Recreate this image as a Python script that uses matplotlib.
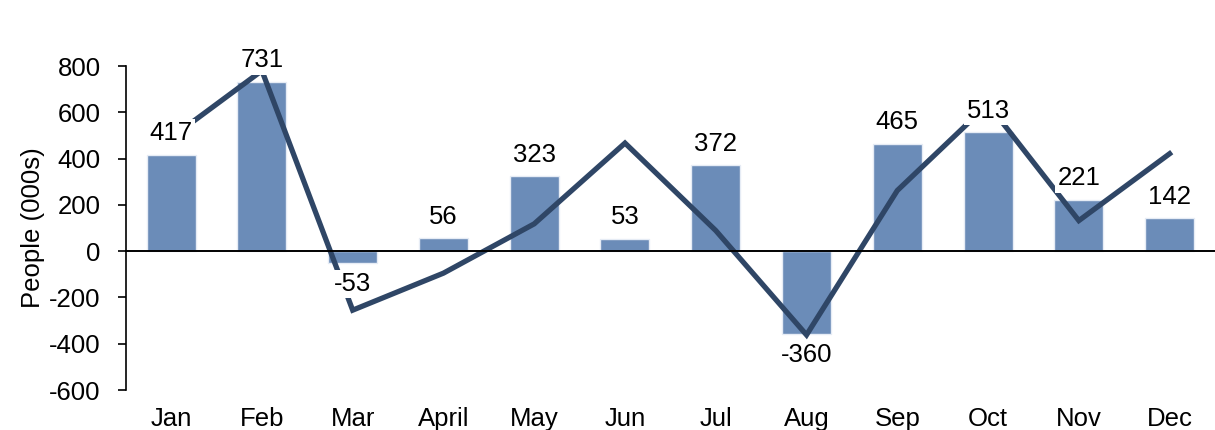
import matplotlib
matplotlib.use("Agg")
import matplotlib.pyplot as plt

months = ["Jan", "Feb", "Mar", "April", "May", "Jun", "Jul", "Aug", "Sep", "Oct", "Nov", "Dec"]
bar_values = [417, 731, -53, 56, 323, 53, 372, -360, 465, 513, 221, 142]
line_values = [490, 780, -255, -95, 118, 467, 89, -362, 262, 635, 132, 421]
yticks = [-600, -400, -200, 0, 200, 400, 600, 800]

plt.rcParams['font.family'] = ['Liberation Sans', 'DejaVu Sans']
FS = 18.5

fig = plt.figure(figsize=(12.15, 4.30), dpi=100)
ax = fig.add_axes([0.1035, 0.093, 0.8965, 0.7535])

x = list(range(len(months)))
ax.bar(x, bar_values, width=0.54, color="#6b8cb8", edgecolor="#e6ecf5", linewidth=1, zorder=2)
ax.plot(x, line_values, color="#2f4666", linewidth=3.8, solid_joinstyle="miter", zorder=3)
ax.axhline(0, color="black", linewidth=1.4, zorder=4, clip_on=False)

for xi, v in zip(x, bar_values):
    off = 15.5 if v >= 0 else -15
    ax.annotate(str(v), (xi, v), xytext=(0, off), textcoords="offset points",
                ha="center", va="center", fontsize=FS, color="black", zorder=5,
                bbox=dict(boxstyle="square,pad=0.08", facecolor="white", edgecolor="none"))

ax.set_xlim(-0.5, 11.5)
ax.set_ylim(-600, 800)
ax.set_yticks(yticks)
ax.set_yticklabels([str(t) for t in yticks])
ax.set_xticks(x)
ax.set_xticklabels(months)
ax.tick_params(axis="x", length=0, pad=12, labelsize=FS)
ax.tick_params(axis="y", direction="out", length=6, width=1.2, labelsize=FS, pad=12)
for s in ["top", "right", "bottom"]:
    ax.spines[s].set_visible(False)
ax.spines["left"].set_linewidth(1.2)
ax.set_ylabel("People (000s)", fontsize=FS)
ax.yaxis.set_label_coords(-0.0744, 0.5)

fig.savefig("out.png", dpi=100)
